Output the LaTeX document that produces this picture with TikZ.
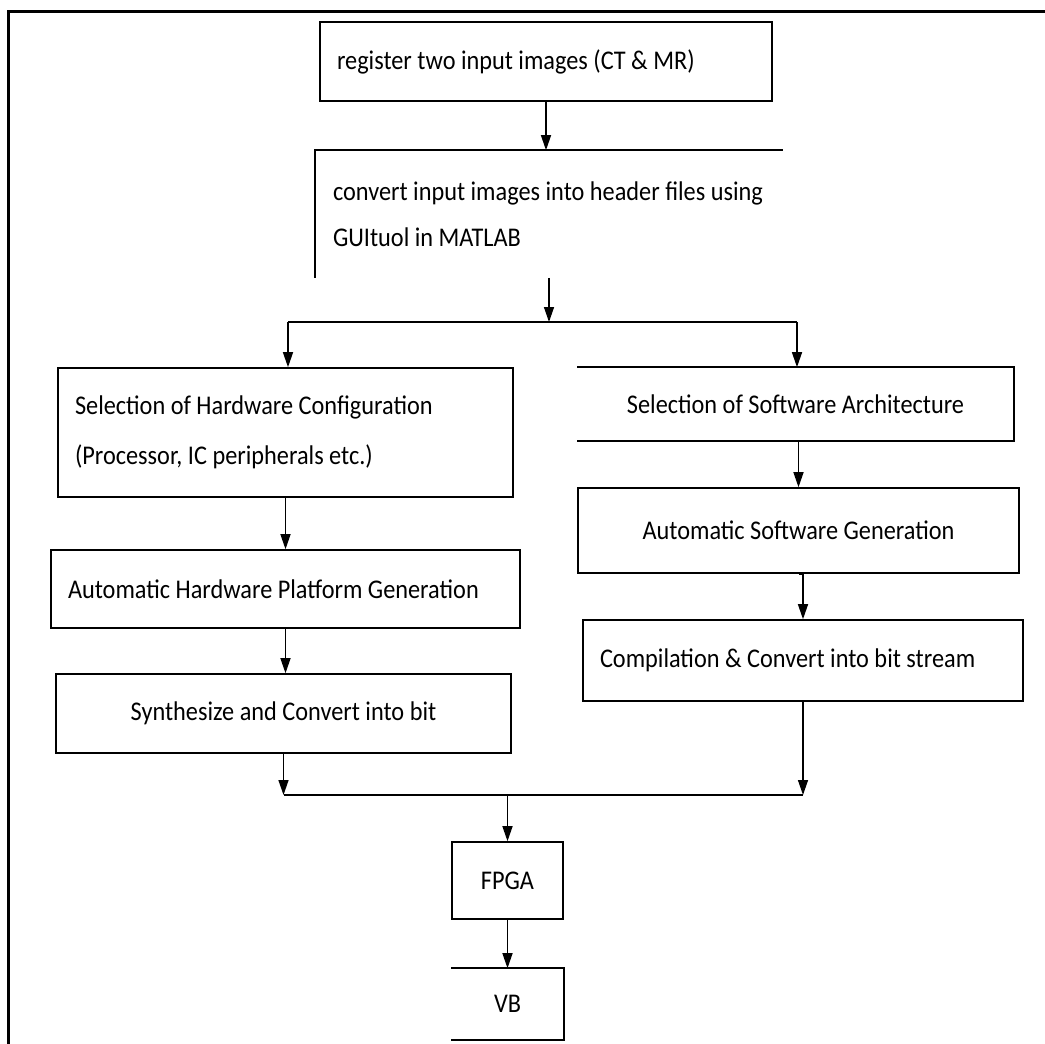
\documentclass[tikz,border=0pt]{standalone}
\usepackage{fontspec}
\setmainfont{Carlito}[FakeStretch=0.9]
\usepackage{tikz}
\usetikzlibrary{arrows.meta}
\newcommand{\stagefont}{\fontsize{27}{46}\selectfont}
\tikzstyle{stage}=[draw, line width=1.6pt, inner xsep=17pt, inner ysep=0, align=flush left, font=\stagefont]
\tikzstyle{cstage}=[stage, align=flush center]
\tikzstyle{ostage}=[draw=none]
\tikzstyle{edge}=[line width=1.6pt]
\tikzstyle{flow}=[line width=1.4pt, -{Triangle[length=15pt, width=10pt]}]
\tikzstyle{flowchart}=[x=1pt, y=-1pt,
                       % Frame round the chart.
                       execute at begin picture={\useasboundingbox (0,0) rectangle (1045,1044);}]

\begin{document}
\begin{tikzpicture}[flowchart]
        \draw[line width=3pt] (1045,11) -- (8,11) -- (8,1044);
        \node[stage, text width=418pt, minimum height=79pt]  (reg) at (546,61.5) {register two input images (CT \& MR)};
        \node[stage, ostage, text width=432pt, minimum height=126pt] (conv) at (549,214) {convert input images into header files using\\GUItuol in MATLAB};
        \node[stage, text width=421pt, minimum height=129pt] (hw) at (285.5,432.5) {Selection of Hardware Configuration\\[4pt](Processor, IC peripherals etc.)};
        \node[cstage, ostage, text width=401pt, minimum height=72pt] (sw) at (795.5,404) {Selection of Software Architecture};
        \node[stage, text width=435pt, minimum height=78pt]  (ahw) at (285.5,589) {Automatic Hardware Platform Generation};
        \node[cstage, text width=407pt, minimum height=85pt] (asw) at (798.5,530.5) {Automatic Software Generation};
        \node[cstage, text width=421pt, minimum height=79pt] (syn) at (283.5,713.5) {Synthesize and Convert into bit\hspace*{20pt}};
        \node[stage, text width=406pt, minimum height=81pt]  (comp) at (803,660.5) {Compilation \& Convert into bit stream};
        \node[cstage, text width=77pt, minimum height=77pt]  (fpga) at (507.5,880.5) {FPGA\hspace*{12pt}};
        \node[cstage, ostage, text width=77pt, minimum height=70pt] (vb) at (507.5,1004) {VB\hspace*{12pt}};
        \coordinate (splitL) at (288,322);
        \coordinate (splitR) at (797,322);
        \coordinate (joinL) at (287,795);
        \draw[edge] (conv.north east) -- (conv.north west) -- (conv.south west);
        \draw[edge] (sw.north west) -- (sw.north east) -- (sw.south east) -- (sw.south west);
        \draw[edge] (vb.north west) -- (vb.north east) -- (vb.south east) -- (vb.south west);
        \draw[flow] (reg.south) -- (reg.south |- conv.north);
        \draw[flow] (conv.south) -- (conv.south |- splitL);
        \draw[line width=1.2pt] (splitL) -- (splitR);
        \draw[flow] (splitL) -- (splitL |- hw.north);
        \draw[flow] (splitR) -- (splitR |- sw.north);
        \draw[flow] (hw.south) -- (ahw.north);
        \draw[flow] (ahw.south) -- (ahw.south |- syn.north);
        \draw[flow] (sw.south -| asw.north) -- (asw.north);
        \draw[flow] (asw.south) -- (asw.south -| comp.north) -- (comp.north);
        \draw[flow] (syn.south) -- (syn.south |- joinL);
        \draw[flow] (comp.south) -- (comp.south |- joinL);
        \draw[line width=1.2pt] (joinL -| syn.south) -- (joinL -| comp.south);
        \draw[flow] (joinL -| fpga.north) -- (fpga.north);
        \draw[flow] (fpga.south) -- (vb.north);
    \end{tikzpicture}
\end{document}
